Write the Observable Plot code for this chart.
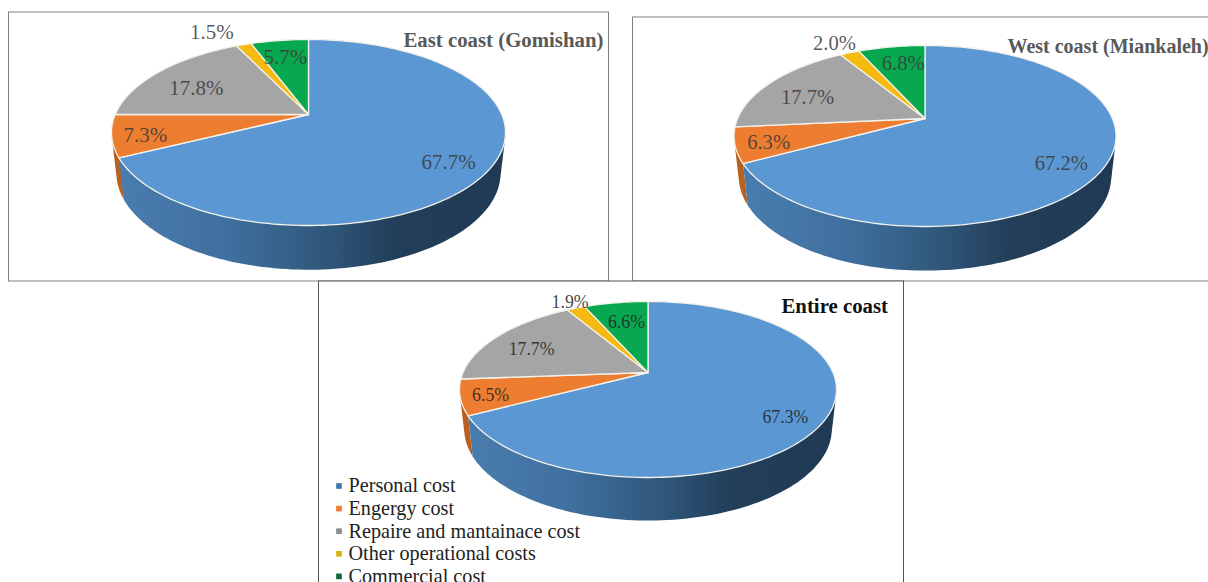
<!DOCTYPE html>
<html>
<head>
<meta charset="utf-8">
<style>html,body{margin:0;padding:0;background:#fff;overflow:hidden}svg{display:block}</style>
<script src="https://cdn.jsdelivr.net/npm/d3@7"></script>
<script src="https://cdn.jsdelivr.net/npm/@observablehq/plot@0.6"></script>
</head>
<body>
<div id="chart"></div>
<script>
// ---- data ----
const categories = ["Personal cost","Engergy cost","Repaire and mantainace cost","Other operational costs","Commercial cost"];
const eastValues = [67.7,7.3,17.8,1.5,5.7];
const westValues = [67.2,6.3,17.7,2.0,6.8];
const entireValues = [67.3,6.5,17.7,1.9,6.6];
const panelTitles = ["East coast (Gomishan)","West coast (Miankaleh)","Entire coast"];

// ---- styles / layout ----
const sliceColors = ["#5b97d3","#ed7d31","#a5a5a5","#f5ba10","#07a84f"];
const wallColors = ["#3a6a99","#b8601f","#7a7a7a","#b88d0c","#067a3a"];
const FONT = "'Liberation Serif','Times New Roman',serif";
const panels = [
  {values:eastValues,title:panelTitles[0],frame:[8.5,608.5,12,281],frameColor:"#808080",
   cx:308,cy:132,rx:197,ry:93,apex:18,depth:40.5,
   label:{size:21,color:"#3a3a3a",polar:[[.817,126.5],[.838,254.5],[.688,296.6],[1.268,331.4],[.739,349.4]]},
   titleAt:[403,40],titleSize:20.8,titleColor:"#595959"},
  {values:westValues,title:panelTitles[1],frame:[632.5,1230,17,281],frameColor:"#808080",
   cx:924.5,cy:135.5,rx:191,ry:90.5,apex:17.5,depth:40.5,
   label:{size:20.6,color:"#3a3a3a",polar:[[.812,125.5],[.835,251.5],[.703,290.8],[1.179,330.6],[.727,349.5]]},
   titleAt:[1007,46],titleSize:20,titleColor:"#595959"},
  {values:entireValues,title:panelTitles[2],frame:[318.5,903.5,281,600],frameColor:"#555555",
   cx:647.5,cy:389,rx:188.5,ry:88,apex:17,depth:39.5,
   label:{size:17.8,color:"#222222",polar:[[.827,125.4],[.849,252.3],[.723,293.3],[1.109,333.1],[.684,348.9]]},
   titleAt:[781,306],titleSize:20.8,titleColor:"#111111"}
];
const wallScaleX = .975, wallScaleY = 1.04;
const legend = {x:338.5,textX:348,top:485.5,step:22.6,size:20.2};

// Perspective view of a disc: the circle is an ellipse, its centre seen at the apex.
function project(p, theta, f, wall) {
  const kx = wall ? wallScaleX : 1, ky = wall ? wallScaleY : 1, dy = wall ? p.depth : 0;
  const c = p.apex / p.ry, d = p.rx * Math.sqrt(1 - c*c);
  const u = f*Math.sin(theta), v = f*Math.cos(theta), w = 1 + c*v;
  return {x: p.cx + kx*d*u/w, y: p.cy + dy - ky*(p.ry*v + p.apex)/w};
}
const rad = d => d*Math.PI/180;
const arcs = vals => d3.pie().sort(null)(vals);
const STEP = rad(1.5);
const thetas = (a,b) => { const n = Math.max(2,Math.ceil((b-a)/STEP)); return d3.range(n+1).map(i => a+(b-a)*i/n); };

// Gradient for the blue wall, one per panel
const defsMark = () => {
  const defs = d3.create("svg:defs");
  panels.forEach((p,i) => {
    const g = defs.append("linearGradient").attr("id","wall"+i).attr("gradientUnits","userSpaceOnUse")
      .attr("x1",p.cx-p.rx).attr("x2",p.cx+p.rx).attr("y1",0).attr("y2",0);
    [[0,"#4a7eb0"],[.3,"#3f6f9e"],[.55,"#2f5679"],[.72,"#223e59"],[1,"#203a54"]].forEach(([o,c]) =>
      g.append("stop").attr("offset",o).attr("stop-color",c));
  });
  return defs.node();
};

const marks = [defsMark];
panels.forEach((p,pi) => {
  const as = arcs(p.values);
  // frame
  const [x1,x2,y1,y2] = p.frame;
  marks.push(Plot.rect([{x1,x2,y1,y2}],{x1:"x1",x2:"x2",y1:"y1",y2:"y2",fill:"white",stroke:p.frameColor,strokeWidth:1}));
  // walls, back to front: hull of the slice's upper and lower rims
  [4,3,2,1,0].forEach(i => {
    const a = as[i];
    const rim = thetas(a.startAngle,a.endAngle).flatMap(t => [project(p,t,1,false),project(p,t,1,true)]);
    const hull = d3.polygonHull(rim.map(q => [q.x,q.y])).map(([x,y]) => ({x,y}));
    const paint = i === 0 ? `url(#wall${pi})` : wallColors[i];
    marks.push(Plot.line(hull,{x:"x",y:"y",curve:"linear-closed",fill:paint}));
  });
  // top face
  as.forEach((a,i) => {
    const pts = [project(p,0,0,false),...thetas(a.startAngle,a.endAngle).map(t => project(p,t,1,false))];
    marks.push(Plot.line(pts,{x:"x",y:"y",curve:"linear-closed",fill:sliceColors[i],stroke:"#f4f2ea",strokeWidth:1.3}));
  });
  // value labels
  const labels = p.values.map((v,i) => {
    const [f,deg] = p.label.polar[i];
    return {...project(p,rad(deg),f,false),text:v.toFixed(1)+"%"};
  });
  marks.push(Plot.text(labels,{x:"x",y:"y",text:"text",fontFamily:FONT,fontSize:p.label.size,fill:p.label.color,fillOpacity:.85,textAnchor:"middle",lineAnchor:"middle"}));
  // title
  marks.push(Plot.text([p.title],{x:()=>p.titleAt[0],y:()=>p.titleAt[1],text:d=>d,fontFamily:FONT,fontWeight:"bold",fontSize:p.titleSize,fill:p.titleColor,textAnchor:"start",lineAnchor:"middle"}));
});
// legend
const legendColors = ["#3f7aa8",sliceColors[1],"#8c8c8c","#d9b310","#0a6b3b"];
const legendRows = categories.map((name,i) => ({name,i,color:legendColors[i]}));
marks.push(Plot.dot(legendRows,{x:()=>legend.x,y:d=>legend.top+d.i*legend.step,symbol:"square",r:3.2,fill:"color"}));
marks.push(Plot.text(legendRows,{x:()=>legend.textX,y:d=>legend.top+d.i*legend.step,text:"name",fontFamily:FONT,fontSize:legend.size,fill:"#222222",textAnchor:"start",lineAnchor:"middle"}));

const chart = Plot.plot({
  width:1208,height:582,margin:0,
  style:{background:"#fff"},
  x:{domain:[0,1208],range:[0,1208],axis:null},
  y:{domain:[0,582],range:[0,582],axis:null},
  color:{type:"identity"},
  marks
});
document.getElementById("chart").append(chart);
</script>
</body>
</html>
